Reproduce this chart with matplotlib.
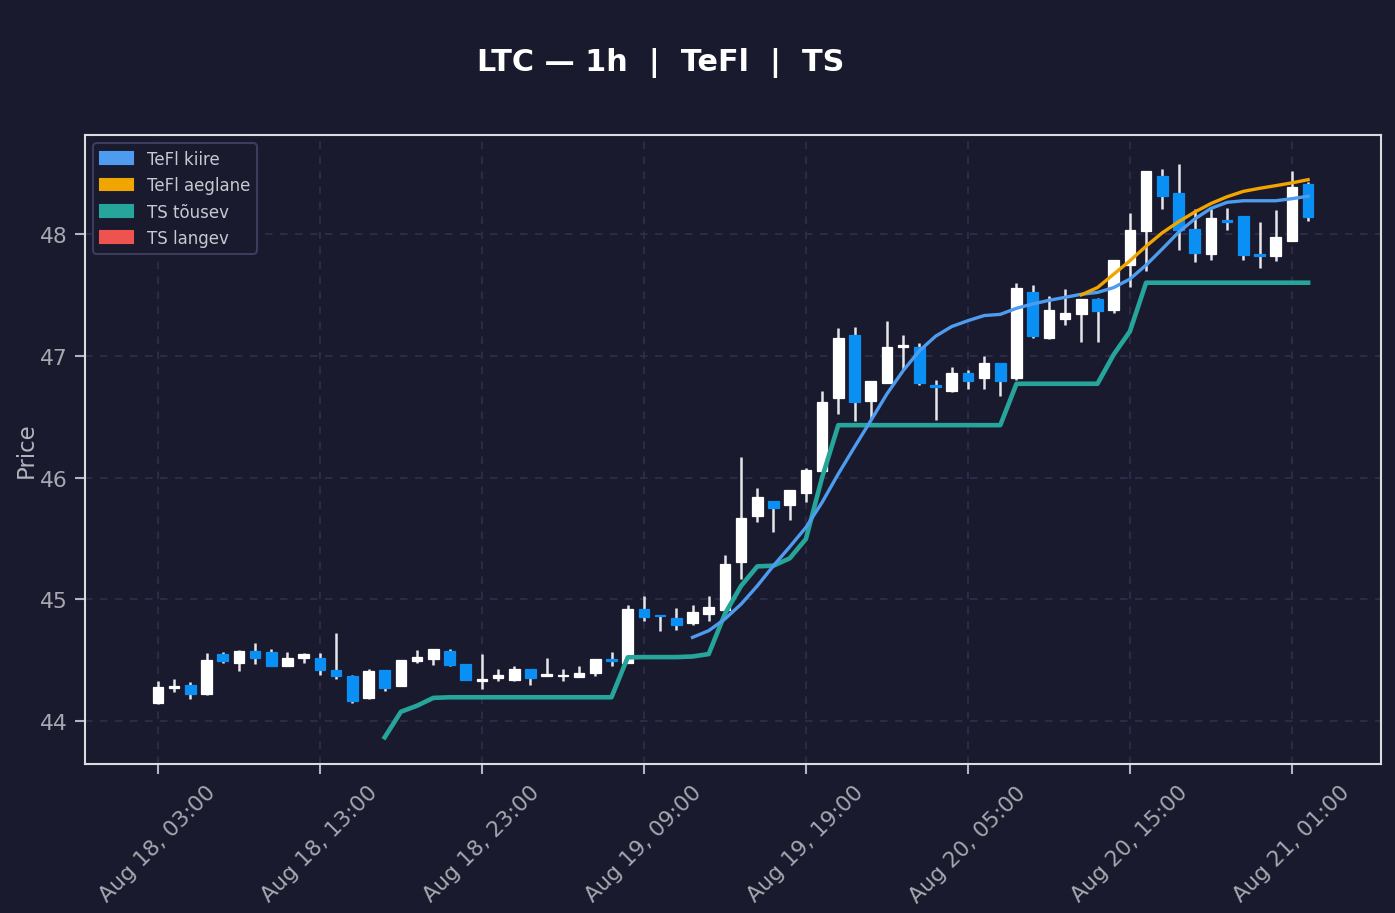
import matplotlib
matplotlib.use("Agg")
import matplotlib.pyplot as plt
import matplotlib.dates as mdates
from matplotlib.patches import Patch
import numpy as np
import pandas as pd

start = "2024-08-18 03:00"
n = 72
times = pd.date_range(start, periods=n, freq="h")

opens = [44.145, 44.27, 44.296, 44.224, 44.55, 44.474, 44.575, 44.567, 44.45, 44.52,
         44.515, 44.419, 44.367, 44.186, 44.416, 44.285, 44.49, 44.507, 44.575, 44.465,
         44.33, 44.356, 44.34, 44.427, 44.367, 44.367, 44.364, 44.397, 44.507, 44.48,
         44.917, 44.87, 44.85, 44.805, 44.88, 44.914, 45.31, 45.686, 45.805, 45.777,
         45.875, 46.05, 46.656, 47.17, 46.63, 46.78, 47.07, 47.07, 46.757, 46.708,
         46.856, 46.815, 46.938, 46.82, 47.52, 47.143, 47.30, 47.34, 47.466, 47.378,
         47.743, 48.022, 48.474, 48.334, 48.039, 47.833, 48.11, 48.145, 47.838, 47.817,
         47.94, 48.408]
closes = [44.276, 44.29, 44.22, 44.50, 44.49, 44.575, 44.52, 44.454, 44.515, 44.548,
          44.42, 44.367, 44.167, 44.41, 44.274, 44.50, 44.523, 44.589, 44.462, 44.334,
          44.345, 44.375, 44.427, 44.356, 44.383, 44.38, 44.394, 44.51, 44.49, 44.917,
          44.857, 44.86, 44.786, 44.893, 44.934, 45.287, 45.665, 45.837, 45.747, 45.895,
          46.06, 46.618, 47.143, 46.618, 46.79, 47.07, 47.086, 46.774, 46.746, 46.856,
          46.79, 46.938, 46.795, 47.554, 47.165, 47.376, 47.35, 47.466, 47.365, 47.786,
          48.033, 48.515, 48.31, 48.033, 47.84, 48.13, 48.10, 47.825, 47.82, 47.973,
          48.383, 48.137]
highs = [44.33, 44.345, 44.32, 44.56, 44.57, 44.583, 44.64, 44.59, 44.567, 44.556,
         44.556, 44.72, 44.38, 44.425, 44.42, 44.50, 44.583, 44.59, 44.59, 44.467,
         44.55, 44.427, 44.45, 44.43, 44.517, 44.427, 44.45, 44.51, 44.57, 44.953,
         45.03, 44.87, 44.928, 44.953, 45.024, 45.363, 46.168, 45.914, 45.81, 45.90,
         46.078, 46.71, 47.228, 47.24, 46.79, 47.288, 47.17, 47.105, 46.80, 46.905,
         46.88, 47.0, 46.94, 47.60, 47.58, 47.49, 47.548, 47.47, 47.474, 47.79,
         48.17, 48.52, 48.534, 48.575, 48.205, 48.205, 48.21, 48.15, 48.096, 48.197,
         48.515, 48.43]
lows = [44.14, 44.24, 44.18, 44.21, 44.48, 44.41, 44.47, 44.45, 44.45, 44.474,
        44.38, 44.347, 44.15, 44.18, 44.25, 44.285, 44.48, 44.457, 44.454, 44.334,
        44.26, 44.326, 44.33, 44.296, 44.367, 44.33, 44.364, 44.372, 44.454, 44.48,
        44.82, 44.74, 44.75, 44.79, 44.82, 44.91, 45.166, 45.637, 45.555, 45.653,
        45.80, 46.05, 46.52, 46.46, 46.48, 46.78, 46.89, 46.76, 46.475, 46.70,
        46.727, 46.727, 46.67, 46.80, 47.148, 47.14, 47.255, 47.115, 47.11, 47.35,
        47.567, 47.70, 48.205, 47.87, 47.767, 47.79, 48.035, 47.79, 47.718, 47.78,
        47.94, 48.11]

nan = np.nan
tefl_fast = [nan] * 33 + [44.687, 44.742, 44.838, 44.96, 45.11, 45.276, 45.43, 45.59,
             45.796, 46.03, 46.25, 46.466, 46.686, 46.877, 47.04, 47.16, 47.24, 47.288,
             47.33, 47.34, 47.39, 47.425, 47.455, 47.48, 47.505, 47.52, 47.56, 47.63,
             47.745, 47.877, 48.014, 48.123, 48.21, 48.26, 48.273, 48.273, 48.273,
             48.29, 48.31]
tefl_slow = [nan] * 57 + [47.50, 47.56, 47.67, 47.78, 47.90, 48.01, 48.10, 48.18, 48.25,
             48.306, 48.35, 48.375, 48.397, 48.42, 48.446]
ts_up = [nan] * 14 + [43.866, 44.076, 44.126, 44.19, 44.195, 44.195, 44.195, 44.195,
         44.195, 44.195, 44.195, 44.195, 44.195, 44.195, 44.195, 44.523, 44.525, 44.525,
         44.525, 44.53, 44.55, 44.88, 45.11, 45.27, 45.276, 45.336, 45.495, 46.0, 46.43,
         46.43, 46.43, 46.43, 46.43, 46.43, 46.43, 46.43, 46.43, 46.43, 46.43, 46.77,
         46.77, 46.77, 46.77, 46.77, 46.77, 47.01, 47.20, 47.60, 47.60, 47.60, 47.60,
         47.60, 47.60, 47.60, 47.60, 47.60, 47.60, 47.60]
ts_down = [nan] * n
tick_times = pd.date_range("2024-08-18 03:00", periods=8, freq="10h")

BG = "#1a1a2e"
UP = "#ffffff"
DOWN = "#0a8ff5"
C_FAST = "#4e9cf0"
C_SLOW = "#f0a500"
C_UP = "#26a69a"
C_DOWN = "#ef5350"
TXT = "#b4b4bc"

fig = plt.figure(figsize=(9.3, 6.0933), dpi=150, facecolor=BG)
ax = fig.add_axes([85/1395, 1-765/914, (1381-85)/1395, (765-136)/914])
ax.set_facecolor(BG)

x = mdates.date2num(times.to_pydatetime())
w = 0.65 / 24
o = np.array(opens); c = np.array(closes); h = np.array(highs); l = np.array(lows)
up = c >= o
cols = np.where(up, UP, DOWN)
ax.vlines(x, l, h, colors="#e6e6ea", linewidth=1.2, zorder=2)
bottoms = np.minimum(o, c)
heights = np.maximum(np.abs(c - o), 0.012)
ax.bar(x, heights, bottom=bottoms, width=w, color=cols, edgecolor=cols,
       linewidth=0.6, zorder=3)

ax.plot(x, ts_up, color=C_UP, linewidth=2.2, zorder=4)
ax.plot(x, ts_down, color=C_DOWN, linewidth=2.2, zorder=4)
ax.plot(x, tefl_fast, color=C_FAST, linewidth=1.6, zorder=5)
ax.plot(x, tefl_slow, color=C_SLOW, linewidth=1.6, zorder=5)

ax.set_xlim(x[0] - 4.5/24, x[-1] + 4.5/24)
ax.set_ylim(43.647, 48.813)
ax.set_yticks([44, 45, 46, 47, 48])
ax.set_xticks(mdates.date2num(tick_times.to_pydatetime()))
ax.xaxis.set_major_formatter(mdates.DateFormatter("%b %d, %H:%M"))
plt.setp(ax.get_xticklabels(), rotation=45, ha="center")

ax.tick_params(colors=TXT, labelsize=10.5, length=5, width=1)
for tl in ax.get_xticklabels() + ax.get_yticklabels():
    tl.set_color("#a8a8b0")
ax.grid(True, color="#2d2d4a", linestyle=(0, (4, 4)), linewidth=0.9)
ax.set_axisbelow(True)
for s in ax.spines.values():
    s.set_color("#dcdce0")
    s.set_linewidth(1.0)
ax.set_ylabel("Price", color=TXT, fontsize=11, labelpad=1)

handles = [Patch(color=C_FAST, label="TeFl kiire"),
           Patch(color=C_SLOW, label="TeFl aeglane"),
           Patch(color=C_UP, label="TS tõusev"),
           Patch(color=C_DOWN, label="TS langev")]
leg = ax.legend(handles=handles, loc="upper left", fontsize=8.0, facecolor=BG,
                edgecolor="#3c3c5c", framealpha=1.0, labelcolor="#c8c8d0",
                borderaxespad=0.5)

fig.text(661/1395, 1-63/914, "LTC — 1h  |  TeFl  |  TS", color="white",
         fontsize=14.5, fontweight="bold", ha="center", va="center")

fig.savefig("out.png", dpi=150, facecolor=BG)
